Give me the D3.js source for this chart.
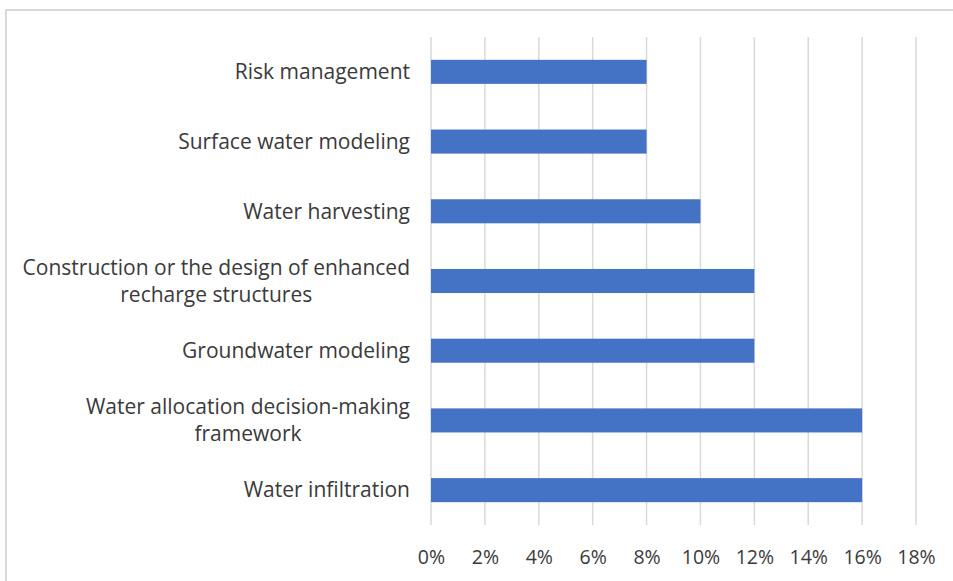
<!DOCTYPE html>
<html><head><meta charset="utf-8">
<script src="https://d3js.org/d3.v7.min.js"></script>
<style>
html,body{margin:0;padding:0;background:#fff;}
svg{display:block;}
</style></head>
<body>
<svg id="chart" width="953" height="581"></svg>
<script>
const categories = [
  ["Risk management"],
  ["Surface water modeling"],
  ["Water harvesting"],
  ["Construction or the design of enhanced", "recharge structures"],
  ["Groundwater modeling"],
  ["Water allocation decision-making", "framework"],
  ["Water infiltration"]
];
const values = [0.08, 0.08, 0.10, 0.12, 0.12, 0.16, 0.16];
const tickValues = [0, 0.02, 0.04, 0.06, 0.08, 0.10, 0.12, 0.14, 0.16, 0.18];

const svg = d3.select("#chart");
const W = 953, H = 581;
const font = "'Open Sans', sans-serif";
const textColor = "#3a3a3a";

// chart frame
svg.append("rect").attr("x", 6).attr("y", 10).attr("width", W + 10).attr("height", H + 10)
  .attr("fill", "#fff").attr("stroke", "#d9d9d9").attr("stroke-width", 2);

const x = d3.scaleLinear().domain([0, 0.18]).range([431, 916]);
const keys = categories.map((c, i) => i);
const y = d3.scaleBand().domain(keys).range([37, 525]).paddingInner(0.655).paddingOuter(0.655 / 2);

// gridlines
svg.append("g").selectAll("line").data(tickValues).join("line")
  .attr("x1", d => x(d)).attr("x2", d => x(d))
  .attr("y1", 37).attr("y2", 525)
  .attr("stroke", "#d9d9d9").attr("stroke-width", 1.5);

// bars
svg.append("g").selectAll("rect").data(values).join("rect")
  .attr("x", x(0))
  .attr("y", (d, i) => y(i))
  .attr("width", d => x(d) - x(0))
  .attr("height", y.bandwidth())
  .attr("fill", "#4472C4");

// x axis tick labels
const xAxis = d3.axisBottom(x).tickValues(tickValues).tickFormat(d3.format(".0%")).tickSize(0).tickPadding(0);
const gx = svg.append("g").attr("transform", "translate(0,550)").call(xAxis);
gx.select(".domain").remove();
gx.selectAll("text").attr("font-family", font).attr("font-size", 19.5).attr("fill", textColor).attr("dy", "0.71em");

// category labels
const labelRight = 410;
const lineH = 27;
const lg = svg.append("g");
categories.forEach((lines, i) => {
  const cy = y(i) + y.bandwidth() / 2;
  const t = lg.append("text")
    .attr("font-family", font).attr("font-size", 21).attr("fill", textColor)
    .attr("text-anchor", "middle");
  lines.forEach((ln, j) => {
    t.append("tspan").attr("y", cy + (j - (lines.length - 1) / 2) * lineH).attr("dy", "0.35em").text(ln);
  });
  const tsp = t.selectAll("tspan").nodes();
  const maxW = d3.max(tsp, n => n.getComputedTextLength());
  const cx = labelRight - maxW / 2;
  t.selectAll("tspan").attr("x", cx);
});
</script>
</body></html>
